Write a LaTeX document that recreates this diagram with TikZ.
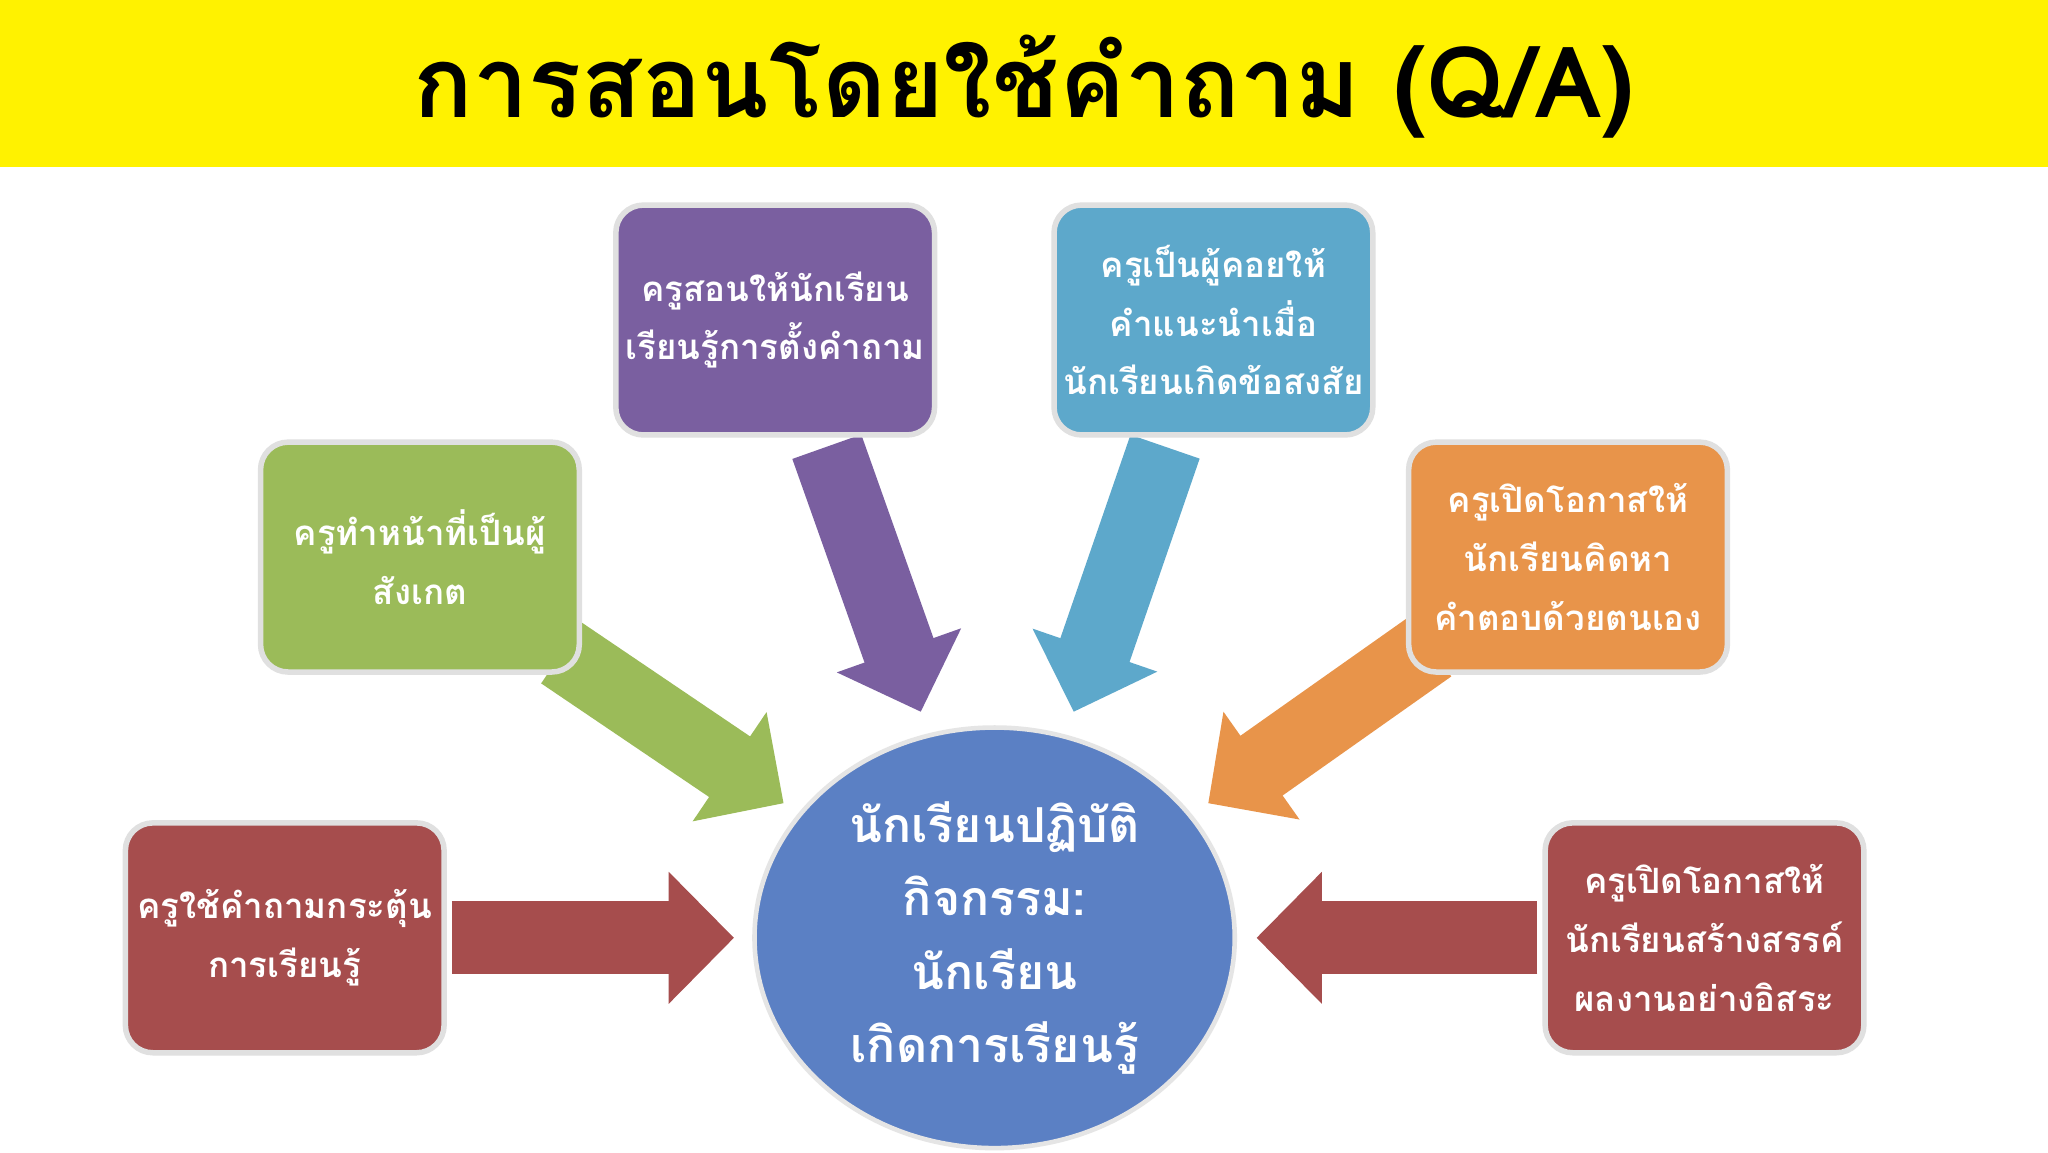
\documentclass[tikz,border=0pt]{standalone}
\usepackage{fontspec}
\newfontfamily\thaifont[Script=Thai]{Loma}
\usetikzlibrary{arrows.meta,shapes.geometric}
\definecolor{cpurple}{HTML}{7A5FA0}
\definecolor{ccyan}{HTML}{5DA8CB}
\definecolor{cgreen}{HTML}{9BBB59}
\definecolor{corange}{HTML}{E8944A}
\definecolor{cred}{HTML}{A64D4D}
\definecolor{cblue}{HTML}{5B80C4}
\tikzset{
 box/.style={rounded corners=6pt, draw=black!12, line width=1.2pt, inner sep=0pt, text width=2.3cm, minimum width=2.44cm, minimum height=1.76cm, text=white, align=center, font=\thaifont\bfseries\fontsize{7.6}{12.8}\selectfont},
 blockarrow/.style={line width=0.56cm, -{Triangle[width=0.98cm,length=0.5cm]}},
}
\begin{document}
\begin{tikzpicture}[x=1cm,y=1cm]
\useasboundingbox (0,0) rectangle (15.68,-8.82);
\fill[white] (0,0) rectangle (15.68,-8.82);
\fill[yellow] (0,0) rectangle (15.68,-1.28);
\coordinate (pa) at (6.33,-3.42); \coordinate (pb) at (7.05,-5.45);
\coordinate (ca) at (8.92,-3.42); \coordinate (cb) at (8.22,-5.45);
\coordinate (ga) at (4.3,-5.0); \coordinate (gb) at (6.0,-6.15);
\coordinate (oa) at (10.95,-4.95); \coordinate (ob) at (9.25,-6.15);
\coordinate (la) at (3.46,-7.18); \coordinate (lb) at (5.62,-7.18);
\coordinate (ra) at (11.77,-7.18); \coordinate (rb) at (9.62,-7.18);
\draw[blockarrow, cpurple] (pa) -- (pb);
\draw[blockarrow, ccyan] (ca) -- (cb);
\draw[blockarrow, cgreen] (ga) -- (gb);
\draw[blockarrow, corange] (oa) -- (ob);
\draw[blockarrow, cred] (la) -- (lb);
\draw[blockarrow, cred] (ra) -- (rb);
\node[font=\thaifont\bfseries\fontsize{21.5}{26}\selectfont] (title) at (7.84,-0.66) {การสอนโดยใช้คำถาม (Q/A)};
\node[box, fill=cpurple] (p) at (5.935,-2.45) {ครูสอนให้นักเรียน\\เรียนรู้การตั้งคำถาม};
\node[box, fill=ccyan] (c) at (9.29,-2.45) {ครูเป็นผู้คอยให้\\คำแนะนำเมื่อ\\นักเรียนเกิดข้อสงสัย};
\node[box, fill=cgreen] (g) at (3.215,-4.265) {ครูทำหน้าที่เป็นผู้\\สังเกต};
\node[box, fill=corange] (o) at (12.005,-4.265) {ครูเปิดโอกาสให้\\นักเรียนคิดหา\\คำตอบด้วยตนเอง};
\node[box, fill=cred] (rl) at (2.18,-7.18) {ครูใช้คำถามกระตุ้น\\การเรียนรู้};
\node[box, fill=cred] (rr) at (13.05,-7.18) {ครูเปิดโอกาสให้\\นักเรียนสร้างสรรค์\\ผลงานอย่างอิสระ};
\node[ellipse, fill=cblue, draw=black!10, line width=1pt, inner sep=0pt, text width=2.6cm, minimum width=3.52cm, minimum height=3.22cm, text=white, align=center, font=\thaifont\bfseries\fontsize{10.5}{16}\selectfont] (m) at (7.615,-7.18) {นักเรียนปฏิบัติ\\กิจกรรม: นักเรียน\\เกิดการเรียนรู้};
\end{tikzpicture}
\end{document}
